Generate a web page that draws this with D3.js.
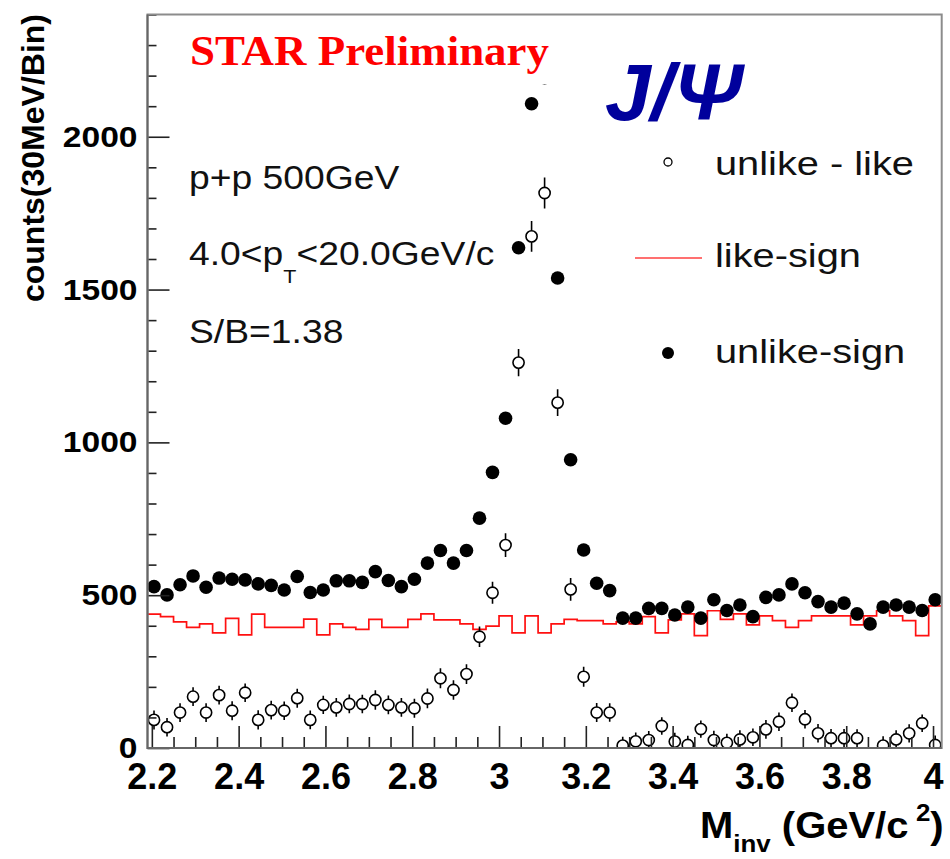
<!DOCTYPE html>
<html>
<head>
<meta charset="utf-8">
<script src="https://cdn.jsdelivr.net/npm/d3@7"></script>
<style>
  html, body { margin: 0; padding: 0; background: #fff; }
  svg { display: block; }
  text { font-family: "Liberation Sans", Arial, Helvetica, sans-serif; }
</style>
</head>
<body>
<svg id="chart" width="950" height="859"></svg>
<script>
// Di-electron invariant-mass spectrum, p+p 500 GeV, 30 MeV bins from 2.19 to 4.02 GeV/c^2
const binLow = 2.19;
const binWidth = 0.03;

// unlike-sign pair counts per bin
const unlikeSign = [
  528, 501, 534, 563, 526, 556, 552, 550, 537, 532,
  517, 561, 509, 517, 547, 547, 542, 577, 548, 528,
  552, 605, 646, 605, 646, 752, 902, 1079, 1637, 2108,
  2193, 1538, 943, 648, 539, 515, 425, 425, 457, 457,
  435, 461, 425, 485, 450, 468, 430, 493, 501, 537,
  508, 479, 461, 474, 439, 406, 461, 468, 461, 450, 485
];

// like-sign background counts per bin
const likeSign = [
  438, 430, 413, 395, 406, 377, 424, 370, 438, 395,
  395, 395, 422, 370, 406, 395, 388, 421, 395, 395,
  421, 439, 419, 419, 406, 388, 399, 432, 377, 432,
  377, 406, 421, 417, 417, 406, 413, 406, 430, 377,
  419, 439, 368, 449, 421, 439, 403, 432, 417, 395,
  417, 432, 432, 432, 403, 432, 449, 432, 417, 368, 465
];

// background-subtracted signal (unlike - like) per bin
const unlikeMinusLike = [
  92, 68, 116, 168, 116, 173, 122, 181, 92, 124,
  122, 163, 92, 141, 133, 144, 144, 157, 141, 133,
  130, 162, 228, 190, 242, 364, 508, 664, 1261, 1674,
  1816, 1130, 519, 233, 116, 116, 8, 22, 26, 72,
  21, 10, 62, 26, 17, 28, 35, 61, 86, 148,
  94, 48, 32, 32, 32, -26, 8, 28, 48, 81, 10
];

const xTickValues = [2.2, 2.4, 2.6, 2.8, 3.0, 3.2, 3.4, 3.6, 3.8, 4.0];
const xTickLabels = ["2.2", "2.4", "2.6", "2.8", "3", "3.2", "3.4", "3.6", "3.8", "4"];
const yTickValues = [0, 500, 1000, 1500, 2000];
const yTickLabels = ["0", "500", "1000", "1500", "2000"];

const legendLabels = ["unlike - like", "like-sign", "unlike-sign"];

// ---------------------------------------------------------------
const svg = d3.select("#chart");
const frame = { left: 147.5, right: 941.7, top: 14.5, bottom: 748 };

const x = d3.scaleLinear().domain([2.19, 4.02]).range([frame.left, frame.right]);
const y = d3.scaleLinear().domain([0, 2400]).range([frame.bottom, frame.top]);

const bins = unlikeSign.map((v, i) => {
  const x0 = binLow + i * binWidth;
  return {
    x0, x1: x0 + binWidth, xc: x0 + binWidth / 2,
    unlike: v, like: likeSign[i], signal: unlikeMinusLike[i],
    err: Math.sqrt(v + likeSign[i])
  };
});

svg.append("rect").attr("width", 950).attr("height", 859).attr("fill", "#fff");

svg.append("defs").append("clipPath").attr("id", "plotArea")
  .append("rect")
  .attr("x", frame.left).attr("y", frame.top)
  .attr("width", frame.right - frame.left)
  .attr("height", frame.bottom - frame.top);

const plot = svg.append("g").attr("clip-path", "url(#plotArea)");

// like-sign histogram as a step outline
const stepPts = [];
bins.forEach(b => { stepPts.push([b.x0, b.like]); stepPts.push([b.x1, b.like]); });
plot.append("path")
  .attr("d", d3.line().x(d => x(d[0])).y(d => y(d[1]))(stepPts))
  .attr("fill", "none")
  .attr("stroke", "#ff1010")
  .attr("stroke-width", 1.7);

// unlike-sign: filled markers
plot.append("g").selectAll("circle")
  .data(bins).join("circle")
  .attr("cx", d => x(d.xc))
  .attr("cy", d => y(d.unlike))
  .attr("r", 6.8)
  .attr("fill", "#000");

// unlike - like: open markers with statistical error bars
const rOpen = 5.6;
const sig = plot.append("g");
sig.selectAll("path.err")
  .data(bins).join("path")
  .attr("class", "err")
  .attr("d", d => {
    const cx = x(d.xc), cy = y(d.signal);
    const top = y(d.signal + d.err), bot = y(d.signal - d.err);
    let p = "";
    if (top < cy - rOpen) p += `M${cx},${top}V${cy - rOpen}`;
    if (bot > cy + rOpen) p += `M${cx},${cy + rOpen}V${bot}`;
    return p || null;
  })
  .attr("stroke", "#000")
  .attr("stroke-width", 1.6);
sig.selectAll("circle")
  .data(bins).join("circle")
  .attr("cx", d => x(d.xc))
  .attr("cy", d => y(d.signal))
  .attr("r", rOpen)
  .attr("fill", "none")
  .attr("stroke", "#000")
  .attr("stroke-width", 1.6);

// ---------------------------------------------------------------
// helper: text placed in a horizontally scaled group
function label(parent, px, py, sx, str) {
  const g = parent.append("g").attr("transform", `translate(${px},${py}) scale(${sx},1)`);
  const t = g.append("text").attr("x", 0).attr("y", 0);
  if (str !== undefined) t.text(str);
  return t;
}

// preliminary tag on a white pave
svg.append("rect")
  .attr("x", 182).attr("y", 22).attr("width", 372).attr("height", 62)
  .attr("fill", "#fff");
label(svg, 190, 65, 1.07, "STAR Preliminary")
  .style("font-family", '"Liberation Serif", "Times New Roman", serif')
  .attr("font-weight", "bold")
  .attr("font-size", 42)
  .attr("fill", "#ff0000");

label(svg, 605, 120, 1.03, "J/Ψ")
  .attr("font-weight", "bold")
  .attr("font-style", "italic")
  .attr("font-size", 80)
  .attr("fill", "#00009c");

// collision / cut info
const infoSize = 33, infoSx = 1.13;
label(svg, 189, 189, infoSx, "p+p 500GeV").attr("font-size", infoSize).attr("fill", "#111");
const pt = label(svg, 189, 265, infoSx).attr("font-size", infoSize).attr("fill", "#111");
pt.append("tspan").text("4.0<p");
pt.append("tspan").attr("font-size", 19).attr("dy", 18).text("T");
pt.append("tspan").attr("dy", -18).text("<20.0GeV/c");
label(svg, 189, 343, infoSx, "S/B=1.38").attr("font-size", infoSize).attr("fill", "#111");

// legend
const legend = svg.append("g");
legend.append("circle").attr("cx", 668).attr("cy", 162).attr("r", 4)
  .attr("fill", "none").attr("stroke", "#000").attr("stroke-width", 1.3);
legend.append("line").attr("x1", 635).attr("x2", 702).attr("y1", 258).attr("y2", 258)
  .attr("stroke", "#ff4040").attr("stroke-width", 1.3);
legend.append("circle").attr("cx", 668).attr("cy", 353).attr("r", 6)
  .attr("fill", "#000");
const legY = [175, 267, 363];
legendLabels.forEach((s, i) => {
  label(legend, 715, legY[i], 1.17, s).attr("font-size", 34).attr("fill", "#111");
});

// ---------------------------------------------------------------
// axes (ticks pointing into the frame)
const axes = svg.append("g");

const xMinorValues = d3.range(44, 81).filter(i => i % 4 !== 0).map(i => i * 0.05);
axes.append("g")
  .attr("transform", `translate(0,${frame.bottom})`)
  .call(d3.axisBottom(x).tickValues(xMinorValues).tickSize(-11).tickFormat(""))
  .call(g => g.select(".domain").remove());
const xAx = axes.append("g")
  .attr("transform", `translate(0,${frame.bottom})`)
  .call(d3.axisBottom(x).tickValues(xTickValues).tickSize(-22).tickPadding(15)
    .tickFormat((d, i) => xTickLabels[i]))
  .call(g => g.select(".domain").remove());
xAx.selectAll("text")
  .attr("font-size", 36).attr("font-weight", "bold").attr("fill", "#000")
  .style("font-family", '"Liberation Sans", Arial, sans-serif');

const yMinorValues = d3.range(0, 2401, 100).filter(v => v % 500 !== 0);
axes.append("g")
  .attr("transform", `translate(${frame.left},0)`)
  .call(d3.axisLeft(y).tickValues(yMinorValues).tickSize(-9).tickFormat(""))
  .call(g => g.select(".domain").remove());
const ySx = 1.12;
const yAx = axes.append("g")
  .attr("transform", `translate(${frame.left},0)`)
  .call(d3.axisLeft(y).tickValues(yTickValues).tickSize(-22).tickPadding(10)
    .tickFormat((d, i) => yTickLabels[i]))
  .call(g => g.select(".domain").remove());
yAx.selectAll("text")
  .attr("x", -10 / ySx)
  .attr("transform", `scale(${ySx},1)`)
  .attr("font-size", 30).attr("font-weight", "bold").attr("fill", "#000")
  .style("font-family", '"Liberation Sans", Arial, sans-serif');

axes.selectAll(".tick line").attr("stroke", "#222").attr("stroke-width", 1.6);

// frame
svg.append("rect")
  .attr("x", frame.left).attr("y", frame.top)
  .attr("width", frame.right - frame.left)
  .attr("height", frame.bottom - frame.top)
  .attr("fill", "none").attr("stroke", "#8c8c8c").attr("stroke-width", 2);
svg.append("path")
  .attr("d", `M${frame.left},${frame.top}V${frame.bottom}H${frame.right}`)
  .attr("fill", "none").attr("stroke", "#666").attr("stroke-width", 2);

// axis titles
svg.append("text")
  .attr("transform", "translate(44,158) rotate(-90)")
  .attr("text-anchor", "middle")
  .attr("font-size", 32).attr("font-weight", "bold").attr("fill", "#000")
  .text("counts(30MeV/Bin)");

const xt = label(svg, 700, 838, 1.08)
  .attr("font-size", 37).attr("font-weight", "bold").attr("fill", "#000");
xt.append("tspan").text("M");
xt.append("tspan").attr("font-size", 24).attr("dy", 14).text("inv");
xt.append("tspan").attr("dy", -14).text(" (GeV/c");
xt.append("tspan").attr("font-size", 24).attr("dy", -17).attr("dx", 7).text("2");
xt.append("tspan").attr("dy", 17).text(")");
</script>
</body>
</html>
